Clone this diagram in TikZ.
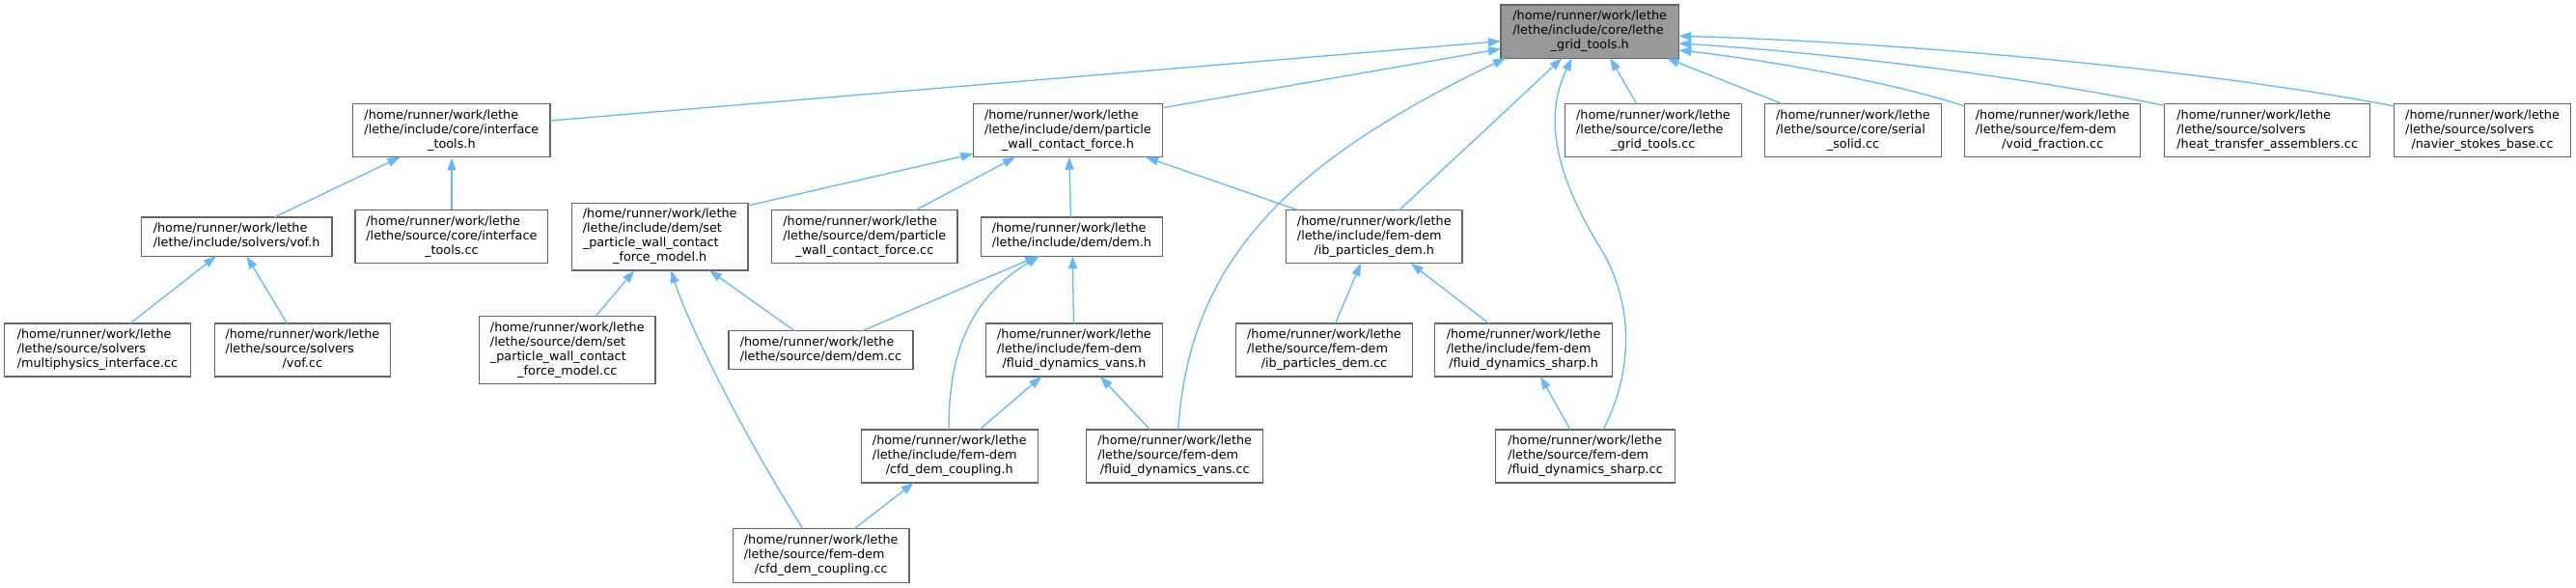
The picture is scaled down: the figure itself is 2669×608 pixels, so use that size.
\documentclass[tikz,border=0pt]{standalone}
\usepackage{fontspec}
\setmainfont{DejaVu Sans}
\usetikzlibrary{arrows.meta}
\definecolor{edgecol}{RGB}{99,184,255}
\definecolor{bordercol}{RGB}{102,102,102}
\definecolor{rootfill}{RGB}{153,153,153}
\newcommand{\lbl}[2]{\begin{tabular}{@{}l@{}}#1\\\multicolumn{1}{@{}c@{}}{#2}\end{tabular}}
\begin{document}
\begin{tikzpicture}[x=1pt,y=-1pt,
  box/.style={draw=bordercol, line width=1.3pt, fill=white, rectangle, inner sep=0pt,
    font=\fontsize{12.8}{15}\selectfont},
  rootbox/.style={box, fill=rootfill},
  dep/.style={draw=edgecol, line width=1.3pt, -{Triangle[length=13pt,width=9pt]}},
]
\fill[white] (0,0) rectangle (2669,608);
\useasboundingbox (0,0) rectangle (2669,608);

% row 0
\node[rootbox, minimum width=184.3pt, minimum height=55.3pt] (root) at (1647.2,32.65)
  {\lbl{/home/runner/work/lethe\\/lethe/include/core/lethe}{\_grid\_tools.h}};

% row 1
\node[box, minimum width=204.3pt, minimum height=55pt] (itools_h) at (467.9,135.2)
  {\lbl{/home/runner/work/lethe\\/lethe/include/core/interface}{\_tools.h}};
\node[box, minimum width=195.7pt, minimum height=55pt] (pwcf_h) at (1106.4,135.2)
  {\lbl{/home/runner/work/lethe\\/lethe/include/dem/particle}{\_wall\_contact\_force.h}};
\node[box, minimum width=182.9pt, minimum height=55pt] (gtcc) at (1713,135.2)
  {\lbl{/home/runner/work/lethe\\/lethe/source/core/lethe}{\_grid\_tools.cc}};
\node[box, minimum width=182.5pt, minimum height=55pt] (serial) at (1920,135.2)
  {\lbl{/home/runner/work/lethe\\/lethe/source/core/serial}{\_solid.cc}};
\node[box, minimum width=182pt, minimum height=55pt] (voidf) at (2126.7,135.2)
  {\lbl{/home/runner/work/lethe\\/lethe/source/fem-dem}{/void\_fraction.cc}};
\node[box, minimum width=213.2pt, minimum height=55pt] (heat) at (2349.2,135.2)
  {\lbl{/home/runner/work/lethe\\/lethe/source/solvers}{/heat\_transfer\_assemblers.cc}};
\node[box, minimum width=182.5pt, minimum height=55pt] (navier) at (2572,135.2)
  {\lbl{/home/runner/work/lethe\\/lethe/source/solvers}{/navier\_stokes\_base.cc}};

% row 2
\node[box, minimum width=197.5pt, minimum height=40.3pt] (vof_h) at (245.1,245.15)
  {\lbl{/home/runner/work/lethe}{/lethe/include/solvers/vof.h}};
\node[box, minimum width=199.7pt, minimum height=55pt] (itools_cc) at (467.9,245.15)
  {\lbl{/home/runner/work/lethe\\/lethe/source/core/interface}{\_tools.cc}};
\node[box, minimum width=182.6pt, minimum height=69.7pt] (spwcfm_h) at (683.7,245.15)
  {\lbl{/home/runner/work/lethe\\/lethe/include/dem/set\\\_particle\_wall\_contact}{\_force\_model.h}};
\node[box, minimum width=192.1pt, minimum height=55pt] (pwcf_cc) at (895.8,245.15)
  {\lbl{/home/runner/work/lethe\\/lethe/source/dem/particle}{\_wall\_contact\_force.cc}};
\node[box, minimum width=187.7pt, minimum height=40.3pt] (dem_h) at (1110.4,245.15)
  {\lbl{/home/runner/work/lethe}{/lethe/include/dem/dem.h}};
\node[box, minimum width=182.5pt, minimum height=55pt] (ibp_h) at (1423.8,245.15)
  {\lbl{/home/runner/work/lethe\\/lethe/include/fem-dem}{/ib\_particles\_dem.h}};

% row 3
\node[box, minimum width=192.9pt, minimum height=55pt] (multi_cc) at (101,362.5)
  {\lbl{/home/runner/work/lethe\\/lethe/source/solvers}{/multiphysics\_interface.cc}};
\node[box, minimum width=182.5pt, minimum height=55pt] (vof_cc) at (313.4,362.5)
  {\lbl{/home/runner/work/lethe\\/lethe/source/solvers}{/vof.cc}};
\node[box, minimum width=182.5pt, minimum height=69.7pt] (spwcfm_cc) at (587.8,362.5)
  {\lbl{/home/runner/work/lethe\\/lethe/source/dem/set\\\_particle\_wall\_contact}{\_force\_model.cc}};
\node[box, minimum width=191pt, minimum height=40pt] (dem_cc) at (850.4,362.7)
  {\lbl{/home/runner/work/lethe}{/lethe/source/dem/dem.cc}};
\node[box, minimum width=182.5pt, minimum height=55pt] (vans_h) at (1113,362.5)
  {\lbl{/home/runner/work/lethe\\/lethe/include/fem-dem}{/fluid\_dynamics\_vans.h}};
\node[box, minimum width=183.6pt, minimum height=55pt] (ibp_cc) at (1372,362.5)
  {\lbl{/home/runner/work/lethe\\/lethe/source/fem-dem}{/ib\_particles\_dem.cc}};
\node[box, minimum width=183.6pt, minimum height=55pt] (sharp_h) at (1578.6,362.5)
  {\lbl{/home/runner/work/lethe\\/lethe/include/fem-dem}{/fluid\_dynamics\_sharp.h}};

% row 4
\node[box, minimum width=183pt, minimum height=55pt] (cfd_h) at (983.8,472.5)
  {\lbl{/home/runner/work/lethe\\/lethe/include/fem-dem}{/cfd\_dem\_coupling.h}};
\node[box, minimum width=183.1pt, minimum height=55pt] (vans_cc) at (1217.2,472.5)
  {\lbl{/home/runner/work/lethe\\/lethe/source/fem-dem}{/fluid\_dynamics\_vans.cc}};
\node[box, minimum width=185.4pt, minimum height=55pt] (sharp_cc) at (1642.5,472.5)
  {\lbl{/home/runner/work/lethe\\/lethe/source/fem-dem}{/fluid\_dynamics\_sharp.cc}};

% row 5
\node[box, minimum width=182.4pt, minimum height=55.6pt] (cfd_cc) at (850.7,575.5)
  {\lbl{/home/runner/work/lethe\\/lethe/source/fem-dem}{/cfd\_dem\_coupling.cc}};

% edges into root
\draw[dep] ([shift={(102.1,-10.2)}]itools_h.center) -- ([shift={(-92.2,10)}]root.center);
\draw[dep] ([shift={(97.8,-23.5)}]pwcf_h.center) -- ([shift={(-92.2,18)}]root.center);
\draw[dep] ([shift={(3.5,-27.5)}]vans_cc.center) .. controls (1232,280) and (1320,175) .. ([shift={(-87.2,27.6)}]root.center);
\draw[dep] ([shift={(25.9,-27.5)}]ibp_h.center) -- ([shift={(-28.8,27.6)}]root.center);
\draw[dep] ([shift={(18.5,-27.5)}]sharp_cc.center) .. controls (1690,390) and (1695,320) .. (1660,260)
  .. controls (1620,195) and (1595,130) .. ([shift={(-18.5,27.6)}]root.center);
\draw[dep] ([shift={(-17.1,-27.5)}]gtcc.center) -- ([shift={(21.1,27.6)}]root.center);
\draw[dep] ([shift={(-73,-27.5)}]serial.center) -- ([shift={(79.7,27.6)}]root.center);
\draw[dep] ([shift={(-91,-25.2)}]voidf.center) .. controls (1960,85) and (1830,62) .. ([shift={(92.1,19.3)}]root.center);
\draw[dep] ([shift={(-106.6,-25.9)}]heat.center) .. controls (2100,80) and (1900,55) .. ([shift={(92.1,12.3)}]root.center);
\draw[dep] ([shift={(-91.2,-25.2)}]navier.center) .. controls (2300,75) and (2000,45) .. ([shift={(92.1,4.6)}]root.center);

% edges into particle_wall_contact_force.h
\draw[dep] ([shift={(91.3,-32.2)}]spwcfm_h.center) -- ([shift={(-97.9,24.1)}]pwcf_h.center);
\draw[dep] ([shift={(53,-27.5)}]pwcf_cc.center) -- ([shift={(-54.4,27.5)}]pwcf_h.center);
\draw[dep] ([shift={(-0.9,-20.15)}]dem_h.center) -- ([shift={(1.4,27.5)}]pwcf_h.center);
\draw[dep] ([shift={(-78.9,-27.5)}]ibp_h.center) -- ([shift={(80.6,27.5)}]pwcf_h.center);

% interface_tools.h and vof.h
\draw[dep] ([shift={(39.1,-20.15)}]vof_h.center) -- ([shift={(-53.4,27.5)}]itools_h.center);
\draw[dep] (itools_cc.north) -- (itools_h.south);
\draw[dep] ([shift={(33.9,-27.5)}]multi_cc.center) -- ([shift={(-21.2,20.15)}]vof_h.center);
\draw[dep] ([shift={(-16,-27.5)}]vof_cc.center) -- ([shift={(10.4,20.15)}]vof_h.center);

% set_particle_wall_contact_force_model.h
\draw[dep] ([shift={(29.3,-34.85)}]spwcfm_cc.center) -- ([shift={(-26.4,34.85)}]spwcfm_h.center);
\draw[dep] ([shift={(-18.7,-27.8)}]cfd_cc.center) .. controls (770,450) and (715,340) .. ([shift={(11.3,34.85)}]spwcfm_h.center);
\draw[dep] ([shift={(-27.1,-20)}]dem_cc.center) -- ([shift={(51.3,34.85)}]spwcfm_h.center);

% dem.h
\draw[dep] ([shift={(42.9,-20)}]dem_cc.center) -- ([shift={(-35.4,20.15)}]dem_h.center);
\draw[dep] ([shift={(-0.5,-27.5)}]cfd_h.center) .. controls (982,360) and (1010,305) .. ([shift={(-33.4,20.15)}]dem_h.center);
\draw[dep] ([shift={(-0.6,-27.5)}]vans_h.center) -- ([shift={(0.9,20.15)}]dem_h.center);

% fluid_dynamics_vans.h, cfd_dem_coupling.h
\draw[dep] ([shift={(31,-27.5)}]cfd_h.center) -- ([shift={(-33.9,27.5)}]vans_h.center);
\draw[dep] ([shift={(-25.6,-27.5)}]vans_cc.center) -- ([shift={(27,27.5)}]vans_h.center);
\draw[dep] ([shift={(34.3,-27.8)}]cfd_cc.center) -- ([shift={(-37.1,27.5)}]cfd_h.center);

% ib_particles_dem.h, fluid_dynamics_sharp.h
\draw[dep] ([shift={(11.5,-27.5)}]ibp_cc.center) -- ([shift={(-13.8,27.5)}]ibp_h.center);
\draw[dep] ([shift={(-36,-27.5)}]sharp_h.center) -- ([shift={(37.9,27.5)}]ibp_h.center);
\draw[dep] ([shift={(-15.5,-27.5)}]sharp_cc.center) -- ([shift={(17.4,27.5)}]sharp_h.center);
\end{tikzpicture}
\end{document}
